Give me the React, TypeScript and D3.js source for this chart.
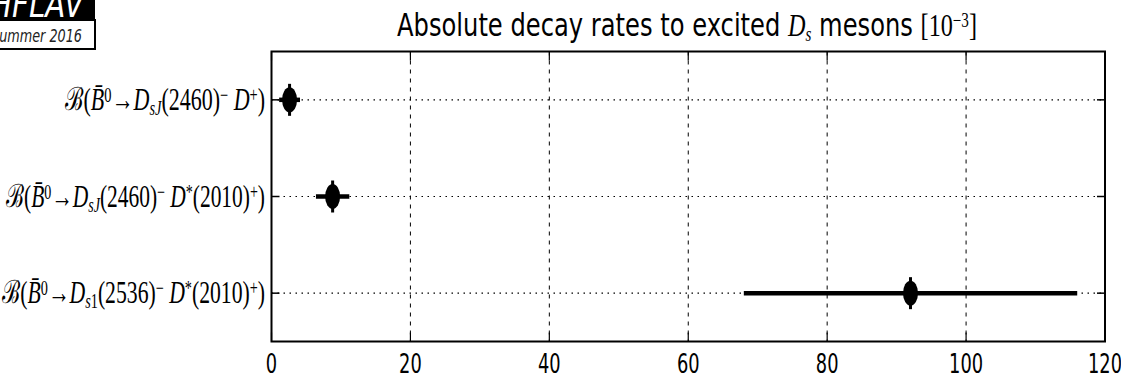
import React from "react";
import * as d3 from "d3";

// Branching fractions in units of 1e-3
const channels = ["2460 D+", "2460 D*+", "2536 D*+"];
const values = [2.6, 8.8, 92.0];
const errors = [1.5, 2.4, 24.0];
const xTicks = [0, 20, 40, 60, 80, 100, 120];

const W = 1121;
const H = 378;
const plot = { left: 271.5, right: 1105, top: 51.5, bottom: 341.5 };

const x = d3.scaleLinear().domain([0, 120]).range([plot.left, plot.right]);
const y = d3.scaleLinear().domain([-0.5, channels.length - 0.5]).range([plot.top, plot.bottom]);

const serif = "'Liberation Serif', 'DejaVu Serif', serif";
const sans = "'DejaVu Sans', sans-serif";

function Label({ row, parts, width }: { row: number; parts: React.ReactNode; width: number }) {
  return (
    <text
      x={265}
      y={y(row) + 10}
      textAnchor="end"
      fontFamily={serif}
      fontSize={32}
      textLength={width}
      lengthAdjust="spacingAndGlyphs"
      fill="#000"
    >
      {parts}
    </text>
  );
}

const sub = (s: string) => (
  <tspan baselineShift="-22%" fontSize={21} fontStyle="italic">{s}</tspan>
);
const sup = (s: string) => (
  <tspan baselineShift="38%" fontSize={21}>{s}</tspan>
);
const it = (s: string) => <tspan fontStyle="italic">{s}</tspan>;

export default function App() {
  const labels = [
    <Label key="a" row={0} width={200} parts={<>
      {"ℬ("}{it("B̄")}{sup("0")}{"→"}{it("D")}{sub("sJ")}{"(2460)"}{sup("−")}{it(" D")}{sup("+")}{")"}
    </>} />,
    <Label key="b" row={1} width={259} parts={<>
      {"ℬ("}{it("B̄")}{sup("0")}{"→"}{it("D")}{sub("sJ")}{"(2460)"}{sup("−")}{it(" D")}{sup("*")}{"(2010)"}{sup("+")}{")"}
    </>} />,
    <Label key="c" row={2} width={263} parts={<>
      {"ℬ("}{it("B̄")}{sup("0")}{"→"}{it("D")}<tspan baselineShift="-22%" fontSize={21}><tspan fontStyle="italic">s</tspan>1</tspan>{"(2536)"}{sup("−")}{it(" D")}{sup("*")}{"(2010)"}{sup("+")}{")"}
    </>} />,
  ];

  return (
    <svg width={W} height={H} style={{ position: "absolute", left: 0, top: 0, background: "#fff" }}>
      <rect width={W} height={H} fill="#fff" />

      {/* logo box */}
      <rect x={-20} y={-5} width={115} height={25} fill="#000" />
      <rect x={-20} y={20} width={115} height={29} fill="#fff" stroke="#000" strokeWidth={2} />
      <text x={-10} y={17} fill="#fff" fontFamily={sans} fontStyle="italic" fontSize={38} textLength={94} lengthAdjust="spacingAndGlyphs">HFLAV</text>
      <text x={-9} y={42} fill="#222" fontFamily={sans} fontStyle="italic" fontSize={17} textLength={91} lengthAdjust="spacingAndGlyphs">Summer 2016</text>

      {/* title */}
      <text x={397} y={36} fontFamily={sans} fontSize={32} textLength={580} lengthAdjust="spacingAndGlyphs" fill="#000">
        {"Absolute decay rates to excited "}
        <tspan fontFamily={serif} fontStyle="italic">D</tspan>
        <tspan fontFamily={serif} fontStyle="italic" fontSize={20} baselineShift="-25%">s</tspan>
        {" mesons "}
        <tspan fontFamily={serif}>[10</tspan>
        <tspan fontFamily={serif} fontSize={20} baselineShift="45%">−3</tspan>
        <tspan fontFamily={serif}>]</tspan>
      </text>

      {/* grid */}
      {xTicks.slice(1, -1).map((t) => (
        <line key={"gx" + t} x1={x(t)} x2={x(t)} y1={plot.top} y2={plot.bottom} stroke="#000" strokeWidth={1} strokeDasharray="4,5" />
      ))}
      {channels.map((c, i) => (
        <line key={"gy" + c} x1={plot.left} x2={plot.right} y1={y(i)} y2={y(i)} stroke="#000" strokeWidth={1.2} strokeDasharray="1.5,4.5" />
      ))}

      {/* ticks */}
      {xTicks.map((t) => (
        <g key={"t" + t}>
          <line x1={x(t)} x2={x(t)} y1={plot.bottom} y2={plot.bottom - 9} stroke="#000" strokeWidth={1.2} />
          <line x1={x(t)} x2={x(t)} y1={plot.top} y2={plot.top + 9} stroke="#000" strokeWidth={1.2} />
          <text transform={`translate(${x(t)},${373}) scale(0.66,1)`} textAnchor="middle" fontFamily={sans} fontSize={27} fill="#000">{t}</text>
        </g>
      ))}
      {channels.map((c, i) => (
        <g key={"yt" + c}>
          <line x1={plot.left} x2={plot.left + 8} y1={y(i)} y2={y(i)} stroke="#000" strokeWidth={1.5} />
          <line x1={plot.right} x2={plot.right - 8} y1={y(i)} y2={y(i)} stroke="#000" strokeWidth={1.5} />
        </g>
      ))}

      {/* data points */}
      {values.map((v, i) => (
        <g key={"p" + i}>
          <line x1={x(v - errors[i])} x2={x(v + errors[i])} y1={y(i)} y2={y(i)} stroke="#000" strokeWidth={4.5} />
          <line x1={x(v)} x2={x(v)} y1={y(i) - 16} y2={y(i) + 16} stroke="#000" strokeWidth={3} />
          <ellipse cx={x(v)} cy={y(i)} rx={7.5} ry={12.5} fill="#000" />
        </g>
      ))}

      {/* frame */}
      <rect x={plot.left} y={plot.top} width={plot.right - plot.left} height={plot.bottom - plot.top} fill="none" stroke="#000" strokeWidth={2} />

      {labels}
    </svg>
  );
}
